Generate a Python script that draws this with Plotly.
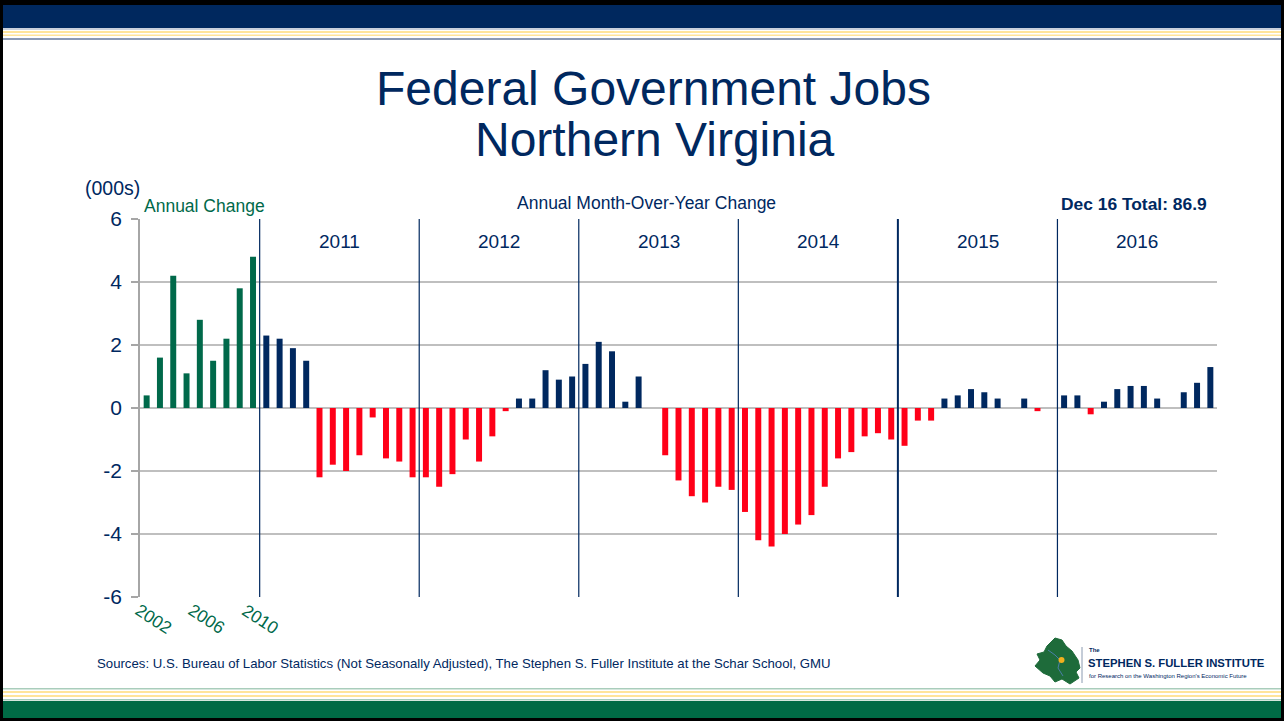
import plotly.graph_objects as go

# ---- data (thousands of jobs) ----
ANNUAL_YEARS = ["2002", "2003", "2004", "2005", "2006", "2007", "2008", "2009", "2010"]
ANNUAL_CHANGE = [0.4, 1.6, 4.2, 1.1, 2.8, 1.5, 2.2, 3.8, 4.8]
ANNUAL_TICKS = ["2002", "2006", "2010"]

MONTHS = ["Jan", "Feb", "Mar", "Apr", "May", "Jun", "Jul", "Aug", "Sep", "Oct", "Nov", "Dec"]
YEARS = [2011, 2012, 2013, 2014, 2015, 2016]
CHANGE_2011 = [2.3, 2.2, 1.9, 1.5, -2.2, -1.8, -2.0, -1.5, -0.3, -1.6, -1.7, -2.2]
CHANGE_2012 = [-2.2, -2.5, -2.1, -1.0, -1.7, -0.9, -0.1, 0.3, 0.3, 1.2, 0.9, 1.0]
CHANGE_2013 = [1.4, 2.1, 1.8, 0.2, 1.0, 0.0, -1.5, -2.3, -2.8, -3.0, -2.5, -2.6]
CHANGE_2014 = [-3.3, -4.2, -4.4, -4.0, -3.7, -3.4, -2.5, -1.6, -1.4, -0.9, -0.8, -1.0]
CHANGE_2015 = [-1.2, -0.4, -0.4, 0.3, 0.4, 0.6, 0.5, 0.3, 0.0, 0.3, -0.1, 0.0]
CHANGE_2016 = [0.4, 0.4, -0.2, 0.2, 0.6, 0.7, 0.7, 0.3, 0.0, 0.5, 0.8, 1.3]
MONTHLY = [CHANGE_2011, CHANGE_2012, CHANGE_2013, CHANGE_2014, CHANGE_2015, CHANGE_2016]

Y_TICKS = [-6, -4, -2, 0, 2, 4, 6]

NAVY = "#00285F"
GREEN = "#00694A"
RED = "#FF0018"
GRID = "#BFBFBF"
FONT = "Liberation Sans, Arial, sans-serif"

# categories + values + colours
cats = list(ANNUAL_YEARS)
vals = list(ANNUAL_CHANGE)
cols = [GREEN] * len(ANNUAL_CHANGE)
for yr, series in zip(YEARS, MONTHLY):
    for m, v in zip(MONTHS, series):
        cats.append(f"{m} {yr}")
        vals.append(v)
        cols.append(NAVY if v >= 0 else RED)

# plot area in pixels (for page decoration only)
W, H = 1284, 721
L, R, T, B = 140, 1217, 219, 597


def fx(px):
    return (px - L) / (R - L)


def fy(py):
    return (B - py) / (B - T)


fig = go.Figure()
fig.add_trace(go.Bar(x=cats, y=vals, marker=dict(color=cols, line=dict(width=0)),
                     hoverinfo="x+y"))

shapes = []
annots = []


def rect(x0, y0, x1, y1, color):
    shapes.append(dict(type="rect", xref="paper", yref="paper", x0=fx(x0), x1=fx(x1),
                       y0=fy(y0), y1=fy(y1), fillcolor=color, line=dict(width=0),
                       layer="below"))


# page frame / header / footer bands
rect(0, 0, W, 5, "#000000")
rect(0, 0, 3, H, "#000000")
rect(W - 3, 0, W, H, "#000000")
rect(0, H - 3, W, H, "#000000")
rect(3, 5, W - 3, 28, "#00285E")
rect(3, 28, W - 3, 30, "#C9D0DC")
rect(3, 31, W - 3, 33, "#FFE49A")
rect(3, 34.5, W - 3, 36, "#FFE49A")
rect(3, 38, W - 3, 40, "#8C9AB5")
rect(3, 688, W - 3, 689.5, "#A9CDBB")
rect(3, 691, W - 3, 693, "#FFE49A")
rect(3, 695, W - 3, 697, "#FFE49A")
rect(3, 699, W - 3, 700.5, "#A9CDBB")
rect(3, 701, W - 3, H - 3, "#006A45")

# year separators
n0 = len(ANNUAL_YEARS)
for k, yr in enumerate(YEARS):
    xb = n0 + 12 * k - 0.5
    shapes.append(dict(type="line", xref="x", yref="paper", x0=xb, x1=xb, y0=0, y1=1,
                       line=dict(color=NAVY, width=2 if yr == 2015 else 1.2)))
    annots.append(dict(x=n0 + 12 * k + 5.5, y=fy(241), xref="x", yref="paper",
                       text=str(yr), font=dict(family=FONT, size=19, color=NAVY)))

# green year labels under annual bars
for lab in ANNUAL_TICKS:
    annots.append(dict(x=cats.index(lab), y=fy(619), xref="x", yref="paper", text=lab,
                       textangle=33, xshift=7,
                       font=dict(family=FONT, size=17.5, color=GREEN)))

# titles and notes
annots += [
    dict(x=fx(653), y=fy(88), text="Federal Government Jobs",
         font=dict(family=FONT, size=48, color=NAVY)),
    dict(x=fx(655), y=fy(140), text="Northern Virginia",
         font=dict(family=FONT, size=48, color=NAVY)),
    dict(x=fx(112), y=fy(188), text="(000s)",
         font=dict(family=FONT, size=19.5, color=NAVY)),
    dict(x=fx(142), y=fy(206), text="Annual Change", xanchor="left",
         font=dict(family=FONT, size=17.5, color=GREEN)),
    dict(x=fx(646), y=fy(203), text="Annual Month-Over-Year Change",
         font=dict(family=FONT, size=17.5, color=NAVY)),
    dict(x=fx(1209), y=fy(204), text="<b>Dec 16 Total: 86.9</b>", xanchor="right",
         font=dict(family=FONT, size=17.4, color=NAVY)),
    dict(x=fx(95), y=fy(663), text="Sources: U.S. Bureau of Labor Statistics (Not Seasonally Adjusted), "
         "The Stephen S. Fuller Institute at the Schar School, GMU", xanchor="left",
         font=dict(family=FONT, size=13.2, color=NAVY)),
    # logo text
    dict(x=fx(1087), y=fy(650), text="<b>The</b>", xanchor="left",
         font=dict(family=FONT, size=6, color=NAVY)),
    dict(x=fx(1086), y=fy(663), text="<b>STEPHEN S. FULLER INSTITUTE</b>", xanchor="left",
         font=dict(family=FONT, size=11.3, color=NAVY)),
    dict(x=fx(1087), y=fy(676), text="for Research on the Washington Region's Economic Future",
         xanchor="left", font=dict(family=FONT, size=6, color=NAVY)),
]
for a in annots:
    a.setdefault("xref", "paper")
    a.setdefault("yref", "paper")
    a.setdefault("showarrow", False)
    a.setdefault("xanchor", "center")
    a.setdefault("yanchor", "middle")

# logo map outline
pts = [(1047, 646), (1055, 638), (1062, 640), (1066, 646), (1072, 651), (1078, 660),
       (1080, 668), (1076, 672), (1079, 678), (1070, 684), (1062, 679), (1055, 682),
       (1050, 676), (1043, 673), (1035, 666), (1040, 660), (1037, 654), (1044, 652)]
path = "M " + " L ".join(f"{fx(a):.5f},{fy(b):.5f}" for a, b in pts) + " Z"
shapes.append(dict(type="path", xref="paper", yref="paper", path=path,
                   fillcolor="#1E6B3A", line=dict(color="#1E6B3A", width=1)))
river = [(1048, 650), (1055, 655), (1060, 660), (1058, 668), (1063, 676)]
shapes.append(dict(type="path", xref="paper", yref="paper",
                   path="M " + " L ".join(f"{fx(a):.5f},{fy(b):.5f}" for a, b in river),
                   line=dict(color="#4A7FA8", width=1)))
shapes.append(dict(type="circle", xref="paper", yref="paper", x0=fx(1058.5), x1=fx(1064.5),
                   y0=fy(657), y1=fy(663), fillcolor="#F2B01E", line=dict(width=0)))
shapes.append(dict(type="line", xref="paper", yref="paper", x0=fx(1082), x1=fx(1082),
                   y0=fy(647), y1=fy(683), line=dict(color="#8A9AB0", width=1)))

fig.update_layout(
    width=W, height=H, autosize=False,
    margin=dict(l=L, r=W - R, t=T, b=H - B),
    paper_bgcolor="white", plot_bgcolor="white",
    showlegend=False, bargap=0.55,
    shapes=shapes, annotations=annots,
    xaxis=dict(type="category", range=[-0.5, len(cats) - 0.5], showticklabels=False,
               showgrid=False, zeroline=False, showline=False, ticks=""),
    yaxis=dict(range=[-6, 6], tickvals=Y_TICKS, ticktext=[str(v) for v in Y_TICKS],
               showgrid=True, gridcolor=GRID, gridwidth=1.5,
               zeroline=True, zerolinecolor=GRID, zerolinewidth=1.5,
               showline=True, linecolor="#A6A6A6", linewidth=1.5,
               ticks="outside", ticklen=7, tickcolor="#A6A6A6", tickwidth=1.5,
               ticklabelstandoff=5,
               tickfont=dict(family=FONT, size=21, color=NAVY)),
)

# page body margin off so the figure sits at the window's corner
fig.write_html("out.html", config={"displayModeBar": False},
               post_script="document.body.style.margin='0px';")
